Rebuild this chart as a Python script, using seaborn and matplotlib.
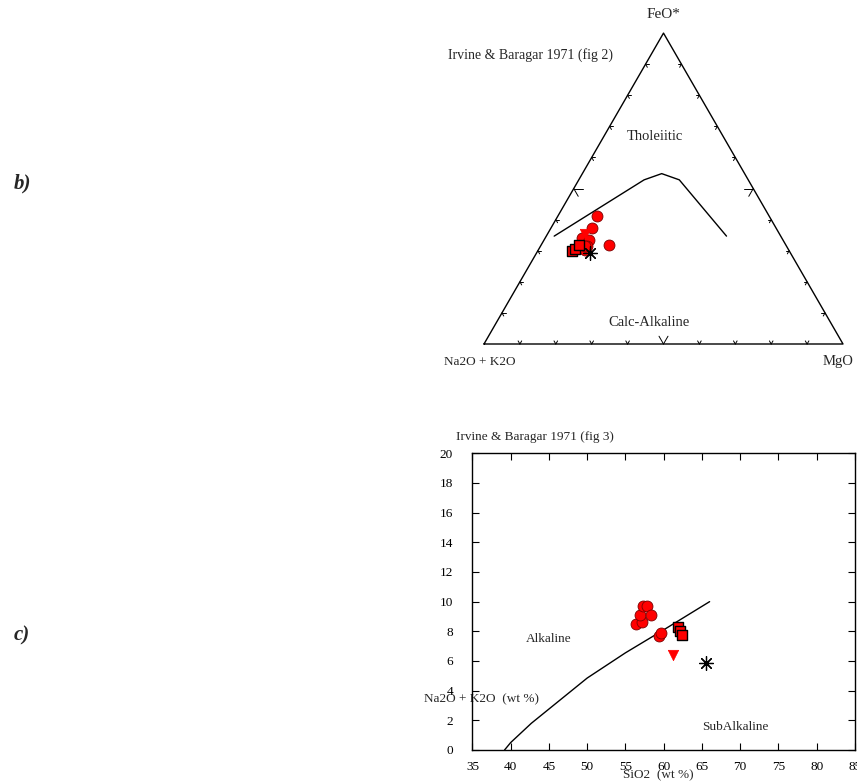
import numpy as np
import pandas as pd
import matplotlib
matplotlib.use('Agg')
import matplotlib.pyplot as plt
import seaborn as sns

sns.set_theme(style='ticks')
plt.rcParams['font.family'] = ['Liberation Serif', 'DejaVu Serif']

W, H = 857, 783

###### AFM data (Na2O+K2O, FeO*, MgO) in %
afm_group = ['circle'] * 8 + ['square'] * 3 + ['triangle'] + ['star']
afm_A = [47.9, 51.3, 55.7, 54.0, 55.6, 56.8, 49.1, 56.0, 60.4, 59.3, 57.5, 54.1, 55.8]
afm_F = [41.1, 37.4, 34.2, 33.4, 31.5, 30.2, 32.0, 31.6, 29.9, 30.7, 32.0, 35.5, 29.3]
afm_M = [11.0, 11.3, 10.1, 12.6, 12.9, 13.0, 18.9, 12.4, 9.7, 10.0, 10.5, 10.4, 14.9]

# tholeiitic / calc-alkaline boundary
bnd_A = [63.1, 29.0, 23.1, 19.2, 15.1]
bnd_F = [34.7, 52.8, 54.8, 52.8, 34.7]
bnd_M = [2.2, 18.2, 22.1, 28.0, 50.2]

###### TAS data
tas_group = ['circle'] * 8 + ['square'] * 3 + ['triangle'] + ['star']
tas_sio2 = [56.35, 57.13, 56.9, 57.26, 57.8, 58.3, 59.35, 59.65, 61.9, 62.14, 62.36, 61.2, 65.5]
tas_alk = [8.48, 8.66, 9.11, 9.70, 9.74, 9.11, 7.68, 7.90, 8.30, 8.01, 7.72, 6.40, 5.84]

# alkaline / subalkaline boundary
div_sio2 = [39.2, 40, 42.7, 50, 55, 60, 66]
div_alk = [0, 0.5, 1.8, 4.85, 6.55, 8.1, 10]

xticks = list(range(35, 90, 5))
yticks = list(range(0, 22, 2))

styles = {
    'circle': dict(marker='o', s=62, color='#ff0000', edgecolor='#7a0000', linewidth=0.6),
    'triangle': dict(marker='v', s=56, color='#ff0000', edgecolor='#ff0000', linewidth=0.5),
    'square': dict(marker='s', s=62, color='#ff0000', edgecolor='black', linewidth=1.0),
    'star': dict(marker=(8, 2, 0), s=100, color='black', linewidth=0.9),
}
order = ['circle', 'triangle', 'square', 'star']


def tern_xy(a, f, m):
    a, f, m = np.asarray(a, float), np.asarray(f, float), np.asarray(m, float)
    tot = a + f + m
    return (m + f / 2) / tot, f / tot * np.sqrt(3) / 2


def px_axes(x0, y0, x1, y1):
    return [x0 / W, 1 - y1 / H, (x1 - x0) / W, (y1 - y0) / H]


fig = plt.figure(figsize=(W / 100, H / 100), dpi=100)

############# b) AFM ternary
h3 = np.sqrt(3) / 2
ax1 = fig.add_axes(px_axes(484, 344 - 359 * h3, 843, 344))
ax1.set_xlim(0, 1)
ax1.set_ylim(0, h3)
ax1.axis('off')

ax1.plot([0, 1, 0.5, 0], [0, 0, h3, 0], color='black', lw=1.0, clip_on=False)

# tick stubs along the grid directions
for t in np.arange(1, 10) / 10:
    L = 0.025 if abs(t - 0.5) < 1e-6 else 0.010
    edges = [((t, 0), (60, 120)),
             ((0.5 * t, h3 * t), (0, -60)),
             ((1 - 0.5 * t, h3 * t), (180, 240))]
    for (x0, y0), angs in edges:
        for ang in angs:
            r = np.radians(ang)
            ax1.plot([x0, x0 + L * np.cos(r)], [y0, y0 + L * np.sin(r)],
                     color='black', lw=0.7, clip_on=False)

bx, by = tern_xy(bnd_A, bnd_F, bnd_M)
sns.lineplot(x=bx, y=by, ax=ax1, color='black', lw=1.0, sort=False, estimator=None)

afm = pd.DataFrame({'group': afm_group, 'A': afm_A, 'F': afm_F, 'M': afm_M})
afm['x'], afm['y'] = tern_xy(afm.A, afm.F, afm.M)
for g in order:
    d = afm[afm.group == g]
    sns.scatterplot(data=d, x='x', y='y', ax=ax1, clip_on=False, zorder=3, **styles[g])
ax1.set_xlabel('')
ax1.set_ylabel('')

ax1.text(0.5, (344 - 15) / 359, 'FeO*', ha='center', va='center', fontsize=11)
ax1.text(-0.013, -18 / 359, 'Na2O + K2O', ha='center', va='center', fontsize=9.5)
ax1.text(0.985, -18 / 359, 'MgO', ha='center', va='center', fontsize=10.5)
ax1.text(0.475, (344 - 137) / 359, 'Tholeiitic', ha='center', va='center', fontsize=10.5)
ax1.text(0.460, (344 - 322) / 359, 'Calc-Alkaline', ha='center', va='center', fontsize=10.5)
fig.text(448 / W, 1 - 55 / H, 'Irvine & Baragar 1971 (fig 2)', ha='left', va='center', fontsize=10)

############# c) TAS
fs = 9.5
ax2 = fig.add_axes(px_axes(472.4, 453.3, 855, 750))
sns.lineplot(x=div_sio2, y=div_alk, ax=ax2, color='black', lw=1.0, sort=False, estimator=None)
tas = pd.DataFrame({'group': tas_group, 'sio2': tas_sio2, 'alk': tas_alk})
for g in order:
    d = tas[tas.group == g]
    sns.scatterplot(data=d, x='sio2', y='alk', ax=ax2, zorder=3, **styles[g])

ax2.set_xlim(35, 85)
ax2.set_ylim(0, 20)
ax2.set_xticks(xticks)
ax2.set_yticks(yticks)
ax2.tick_params(direction='in', length=5, width=0.8, top=True, right=True, labelsize=fs, colors='black')
ax2.tick_params(axis='y', pad=14)
ax2.tick_params(axis='x', pad=8)
for sp in ax2.spines.values():
    sp.set_color('black')
    sp.set_linewidth(1.0)

ax2.set_xlabel('SiO2  (wt %)', fontsize=fs, va='center')
ax2.xaxis.set_label_coords(0.485, -0.085)
ax2.set_ylabel('Na2O + K2O  (wt %)', fontsize=fs, rotation=0, ha='center', va='center')
ax2.yaxis.set_label_coords(0.025, 0.172)

ax2.text(0.20, 0.375, 'Alkaline', transform=ax2.transAxes, ha='center', va='center', fontsize=fs)
ax2.text(0.686, 0.077, 'SubAlkaline', transform=ax2.transAxes, ha='center', va='center', fontsize=fs)
fig.text(456 / W, 1 - 437 / H, 'Irvine & Baragar 1971 (fig 3)', ha='left', va='center', fontsize=fs)

############# panel letters
fig.text(14 / W, 1 - 183 / H, 'b)', ha='left', va='center', fontsize=15, fontweight='bold', style='italic')
fig.text(14 / W, 1 - 635 / H, 'c)', ha='left', va='center', fontsize=15, fontweight='bold', style='italic')

plt.savefig('out.png', dpi=100)
